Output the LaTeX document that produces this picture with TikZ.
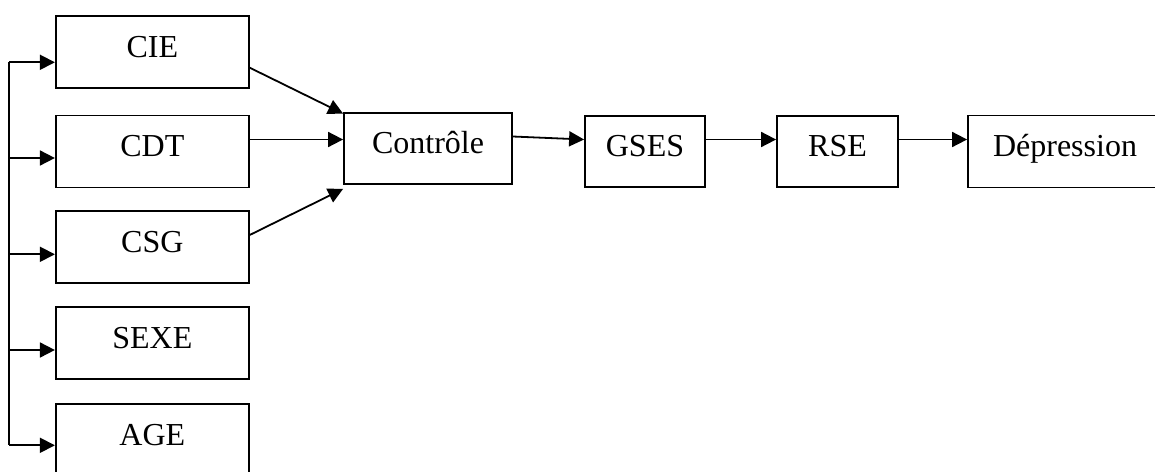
\documentclass[tikz,border=0pt]{standalone}
\usepackage{fontspec}
\setmainfont{Liberation Serif}
\usetikzlibrary{arrows.meta}
\tikzset{
  box/.style={draw, line width=1.8pt, rectangle, inner sep=0pt, minimum height=72pt,
    text height=22pt, text depth=11.4pt, font=\fontsize{32}{38}\selectfont},
  conn/.style={line width=1.8pt, -{Triangle[length=15pt,width=15pt]}},
  bus/.style={line width=1.8pt}
}
\begin{document}
\begin{tikzpicture}[x=1pt,y=-1pt]
\clip (0,0) rectangle (1155,471);
\fill[white] (0,0) rectangle (1155,471);
% left column
\node[box, minimum width=193pt] (CIE)  at (152.3,52.2) {CIE};
\node[box, minimum width=193pt] (CDT)  at (152.3,151.5) {CDT};
\node[box, minimum width=193pt] (CSG)  at (152.3,247.3) {CSG};
\node[box, minimum width=193pt] (SEXE) at (152.3,343.2) {SEXE};
\node[box, minimum width=193pt] (AGE)  at (152.3,439.7) {AGE};
% chain
\node[box, minimum width=168pt, minimum height=71pt] (CTRL) at (428,148.5) {Contrôle};
\node[box, minimum width=120pt, minimum height=71pt] (GSES) at (645,151.5) {GSES};
\node[box, minimum width=121pt, minimum height=71pt] (RSE)  at (837.5,151.5) {RSE};
\node[box, minimum width=194pt, minimum height=72pt] (DEP)  at (1065,151.5) {Dépression};
% bus
\coordinate (b1) at (9,62.3);
\coordinate (b2) at (9,158);
\coordinate (b3) at (9,254.3);
\coordinate (b4) at (9,350);
\coordinate (b5) at (9,445.3);
\draw[bus] (b1) -- (b5);
\draw[conn] (b1) -- (b1 -| CIE.west);
\draw[conn] (b2) -- (b2 -| CDT.west);
\draw[conn] (b3) -- (b3 -| CSG.west);
\draw[conn] (b4) -- (b4 -| SEXE.west);
\draw[conn] (b5) -- (b5 -| AGE.west);
% to control
\draw[conn] ([yshift=-15.5pt]CIE.east) -- ([yshift=-1.5pt]CTRL.north west);
\draw[conn] ([yshift=12pt]CDT.east) -- ([yshift=9pt]CTRL.west);
\draw[conn] ([yshift=12.3pt]CSG.east) -- ([yshift=-4pt]CTRL.south west);
% chain arrows
\draw[conn] ([yshift=12pt]CTRL.east) -- ([yshift=12pt]GSES.west);
\draw[conn] ([yshift=12pt]GSES.east) -- ([yshift=12pt]RSE.west);
\draw[conn] ([yshift=12pt]RSE.east) -- ([yshift=12pt]DEP.west);
\end{tikzpicture}
\end{document}
